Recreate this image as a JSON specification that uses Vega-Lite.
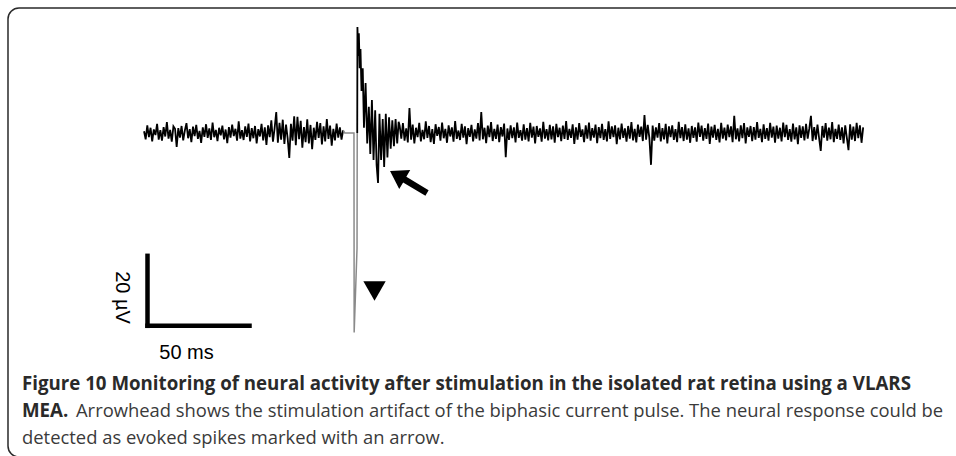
{
  "$schema": "https://vega.github.io/schema/vega-lite/v6.json",
  "width": 956,
  "height": 456,
  "autosize": {"type": "none"},
  "padding": 0,
  "background": "white",
  "config": {"view": {"stroke": null}},
  "datasets": {
    "frame": [{"t": -66.68, "v": 35.71, "t2": 420, "v2": -92.57}],
    "pre": [
      {"t":0,"v":0.5},{"t":0.8,"v":-1.8},{"t":1.6,"v":2.2},{"t":2.4,"v":-1.2},{"t":3.2,"v":1.5},{"t":4,"v":-2.4},{"t":4.8,"v":1.0},{"t":5.6,"v":-0.6},{"t":6.4,"v":2.6},{"t":7.2,"v":-1.9},
      {"t":8,"v":0.8},{"t":8.8,"v":-2.2},{"t":9.6,"v":1.7},{"t":10.4,"v":-1.0},{"t":11.2,"v":3.1},{"t":12,"v":-1.6},{"t":12.8,"v":0.9},{"t":13.6,"v":-2.5},{"t":14.4,"v":1.9},{"t":15.2,"v":1.2},
      {"t":16,"v":-4.0},{"t":16.8,"v":1.4},{"t":17.6,"v":-1.3},{"t":18.4,"v":2.0},{"t":19.2,"v":-2.1},{"t":20,"v":0.7},{"t":20.8,"v":2.8},{"t":21.6,"v":-1.5},{"t":22.4,"v":1.1},{"t":23.2,"v":-2.6},
      {"t":24,"v":1.8},{"t":24.8,"v":-0.9},{"t":25.6,"v":2.3},{"t":26.4,"v":-1.7},{"t":27.2,"v":0.6},{"t":28,"v":-2.8},{"t":28.8,"v":1.6},{"t":29.6,"v":-1.1},{"t":30.4,"v":2.5},{"t":31.2,"v":-1.4},
      {"t":32,"v":1.3},{"t":32.8,"v":-2.0},{"t":33.6,"v":3.0},{"t":34.4,"v":-1.2},{"t":35.2,"v":0.9},{"t":36,"v":-2.3},{"t":36.8,"v":1.5},{"t":37.6,"v":-0.7},{"t":38.4,"v":2.1},{"t":39.2,"v":-1.8},
      {"t":40,"v":1.0},{"t":40.8,"v":-2.9},{"t":41.6,"v":1.7},{"t":42.4,"v":-1.3},{"t":43.2,"v":2.4},{"t":44,"v":-0.9},{"t":44.8,"v":1.2},{"t":45.6,"v":-2.2},{"t":46.4,"v":3.3},{"t":47.2,"v":-1.6},
      {"t":48,"v":0.8},{"t":48.8,"v":-2.0},{"t":49.6,"v":1.9},{"t":50.4,"v":-1.1},{"t":51.2,"v":2.7},{"t":52,"v":-2.4},{"t":52.8,"v":1.4},{"t":53.6,"v":-1.5},{"t":54.4,"v":2.0},{"t":55.2,"v":-3.0},
      {"t":56,"v":1.1},{"t":56.8,"v":-1.0},{"t":57.6,"v":2.6},{"t":58.4,"v":-2.1},{"t":59.2,"v":1.6},{"t":60,"v":-3.4},{"t":60.8,"v":2.2},{"t":61.6,"v":-1.2},{"t":62.4,"v":3.6},{"t":63.2,"v":-2.5},
      {"t":64,"v":1.3},{"t":64.8,"v":6.0},{"t":65.6,"v":-2.8},{"t":66.4,"v":2.9},{"t":67.2,"v":-1.9},{"t":68,"v":3.8},{"t":68.8,"v":-3.1},{"t":69.6,"v":2.4},{"t":70.4,"v":-1.5},{"t":71.2,"v":-7.1},
      {"t":72,"v":2.6},{"t":72.8,"v":-2.2},{"t":73.6,"v":4.8},{"t":74.4,"v":-3.5},{"t":75.2,"v":4.6},{"t":76,"v":-1.8},{"t":76.8,"v":3.5},{"t":77.6,"v":-4.2},{"t":78.4,"v":1.7},{"t":79.2,"v":-2.6},
      {"t":80,"v":3.9},{"t":80.8,"v":-3.0},{"t":81.6,"v":2.3},{"t":82.4,"v":-4.6},{"t":83.2,"v":1.5},{"t":84,"v":-2.0},{"t":84.8,"v":3.2},{"t":85.6,"v":-1.4},{"t":86.4,"v":2.8},{"t":87.2,"v":-3.3},
      {"t":88,"v":1.9},{"t":88.8,"v":-2.4},{"t":89.6,"v":4.0},{"t":90.4,"v":-1.7},{"t":91.2,"v":2.1},{"t":92,"v":-3.6},{"t":92.8,"v":1.2},{"t":93.6,"v":-2.1},{"t":94.4,"v":2.7},{"t":95.2,"v":-1.3},
      {"t":96,"v":1.6},{"t":96.8,"v":-1.9},{"t":97.6,"v":0.8}
    ],
    "artifact": [
      {"t":97.6,"v":0.8},{"t":98.4,"v":0},{"t":102.9,"v":0},{"t":103.0,"v":-57.0},{"t":104.4,"v":-33.0},{"t":104.5,"v":0}
    ],
    "post": [
      {"t":104.5,"v":0},{"t":104.6,"v":30.3},{"t":105.0,"v":22.0},{"t":105.3,"v":28.5},{"t":105.7,"v":18.5},{"t":106.1,"v":24.0},{"t":106.6,"v":12.0},{"t":107.2,"v":18.5},{"t":107.8,"v":1.5},{"t":108.6,"v":14.3},
      {"t":109.4,"v":-3.0},{"t":110.2,"v":7.5},{"t":110.9,"v":-6.0},{"t":111.7,"v":9.4},{"t":112.5,"v":-7.7},{"t":113.3,"v":6.5},{"t":114.0,"v":-9.1},{"t":114.7,"v":-14.3},{"t":115.4,"v":5.5},{"t":116.2,"v":-7.7},
      {"t":117.0,"v":4.0},{"t":117.7,"v":-9.7},{"t":118.5,"v":5.5},{"t":119.3,"v":-7.0},{"t":120.1,"v":4.5},{"t":120.9,"v":-4.5},{"t":121.7,"v":3.6},{"t":122.5,"v":-3.8},{"t":123.3,"v":4.0},{"t":124.1,"v":-3.0},
      {"t":124.8,"v":3.2},
      {"t":125.3,"v":2.1},{"t":126.1,"v":-1.6},{"t":126.9,"v":2.8},{"t":127.7,"v":-2.2},{"t":128.5,"v":1.3},{"t":129.3,"v":-2.7},{"t":130.1,"v":7.1},{"t":130.9,"v":-1.9},{"t":131.7,"v":2.4},{"t":132.5,"v":-3.0},
      {"t":133.3,"v":1.5},{"t":134.1,"v":-1.2},{"t":134.9,"v":2.9},{"t":135.7,"v":-2.4},{"t":136.5,"v":0.9},{"t":137.3,"v":-1.8},{"t":138.1,"v":3.3},{"t":138.9,"v":-1.4},{"t":139.7,"v":2.0},{"t":140.5,"v":-2.6},
      {"t":141.3,"v":1.1},{"t":142.1,"v":-3.1},{"t":142.9,"v":2.5},{"t":143.7,"v":-0.8},{"t":144.5,"v":1.7},{"t":145.3,"v":-2.2},{"t":146.1,"v":3.0},{"t":146.9,"v":-1.5},{"t":147.7,"v":1.2},{"t":148.5,"v":-2.8},
      {"t":149.3,"v":2.2},{"t":150.1,"v":-1.0},{"t":150.9,"v":1.6},{"t":151.7,"v":-2.5},{"t":152.5,"v":3.4},{"t":153.3,"v":-1.7},{"t":154.1,"v":0.7},{"t":154.9,"v":-2.0},{"t":155.7,"v":2.6},{"t":156.5,"v":-1.3},
      {"t":157.3,"v":1.9},{"t":158.1,"v":-3.2},{"t":158.9,"v":1.4},{"t":159.7,"v":-1.1},{"t":160.5,"v":2.3},{"t":161.3,"v":-2.4},{"t":162.1,"v":1.0},{"t":162.9,"v":-1.6},{"t":163.7,"v":2.8},{"t":164.5,"v":-2.1},
      {"t":165.3,"v":6.0},{"t":166.1,"v":-1.8},{"t":166.9,"v":1.5},{"t":167.7,"v":-2.9},{"t":168.5,"v":2.1},{"t":169.3,"v":-1.2},{"t":170.1,"v":3.1},{"t":170.9,"v":-2.3},{"t":171.7,"v":1.2},{"t":172.5,"v":-1.7},
      {"t":173.3,"v":2.4},{"t":174.1,"v":-2.6},{"t":174.9,"v":1.7},{"t":175.7,"v":-1.0},{"t":176.5,"v":2.7},{"t":177.3,"v":-6.9},{"t":178.1,"v":1.3},{"t":178.9,"v":-2.0},{"t":179.7,"v":2.2},{"t":180.5,"v":-1.5},
      {"t":181.3,"v":1.6},{"t":182.1,"v":-2.7},{"t":182.9,"v":3.0},{"t":183.7,"v":-1.4},{"t":184.5,"v":0.8},{"t":185.3,"v":-2.2},{"t":186.1,"v":2.5},{"t":186.9,"v":-1.9},{"t":187.7,"v":1.4},{"t":188.5,"v":-2.4},
      {"t":189.3,"v":2.9},{"t":190.1,"v":-1.3},{"t":190.9,"v":1.8},{"t":191.7,"v":-3.0},{"t":192.5,"v":2.0},{"t":193.3,"v":-1.1},{"t":194.1,"v":1.3},{"t":194.9,"v":-2.5},{"t":195.7,"v":3.2},{"t":196.5,"v":-1.6},
      {"t":197.3,"v":1.1},{"t":198.1,"v":-2.1},{"t":198.9,"v":2.3},{"t":199.7,"v":-1.8},{"t":200.5,"v":1.9},{"t":201.3,"v":-2.8},{"t":202.1,"v":2.6},{"t":202.9,"v":-1.2},{"t":203.7,"v":1.5},{"t":204.5,"v":-2.3},
      {"t":205.3,"v":2.1},{"t":206.1,"v":-1.7},{"t":206.9,"v":3.4},{"t":207.7,"v":-2.0},{"t":208.5,"v":1.2},{"t":209.3,"v":-1.4},{"t":210.1,"v":2.5},{"t":210.9,"v":-3.1},{"t":211.7,"v":1.6},{"t":212.5,"v":-1.9},
      {"t":213.3,"v":2.8},{"t":214.1,"v":-1.1},{"t":214.9,"v":1.0},{"t":215.7,"v":-2.6},{"t":216.5,"v":2.2},{"t":217.3,"v":-1.6},{"t":218.1,"v":3.0},{"t":218.9,"v":-2.2},{"t":219.7,"v":1.4},{"t":220.5,"v":-1.3},
      {"t":221.3,"v":2.4},{"t":222.1,"v":-2.9},{"t":222.9,"v":1.7},{"t":223.7,"v":-1.5},{"t":224.5,"v":2.6},{"t":225.3,"v":-2.0},{"t":226.1,"v":1.1},{"t":226.9,"v":-2.4},{"t":227.7,"v":3.3},{"t":228.5,"v":-1.7},
      {"t":229.3,"v":1.9},{"t":230.1,"v":-1.2},{"t":230.9,"v":2.2},{"t":231.7,"v":-3.2},{"t":232.5,"v":1.5},{"t":233.3,"v":-1.8},{"t":234.1,"v":2.7},{"t":234.9,"v":-1.4},{"t":235.7,"v":1.3},{"t":236.5,"v":-2.5},
      {"t":237.3,"v":2.0},{"t":238.1,"v":-1.6},{"t":238.9,"v":3.1},{"t":239.7,"v":-2.1},{"t":240.5,"v":1.2},{"t":241.3,"v":-2.7},{"t":242.1,"v":2.4},{"t":242.9,"v":-1.1},{"t":243.7,"v":1.8},{"t":244.5,"v":-2.3},
      {"t":245.3,"v":5.1},{"t":246.1,"v":-1.9},{"t":246.9,"v":2.3},{"t":247.7,"v":-1.4},{"t":248.5,"v":-9.1},{"t":249.3,"v":2.1},{"t":250.1,"v":-2.2},{"t":250.9,"v":1.6},{"t":251.7,"v":-1.3},{"t":252.5,"v":2.8},
      {"t":253.3,"v":-2.4},{"t":254.1,"v":1.4},{"t":254.9,"v":-1.8},{"t":255.7,"v":2.6},{"t":256.5,"v":-3.0},{"t":257.3,"v":1.9},{"t":258.1,"v":-1.2},{"t":258.9,"v":2.2},{"t":259.7,"v":-2.0},{"t":260.5,"v":1.1},
      {"t":261.3,"v":-2.6},{"t":262.1,"v":3.2},{"t":262.9,"v":-1.5},{"t":263.7,"v":1.7},{"t":264.5,"v":-2.3},{"t":265.3,"v":2.5},{"t":266.1,"v":-1.9},{"t":266.9,"v":1.3},{"t":267.7,"v":-2.8},{"t":268.5,"v":2.0},
      {"t":269.3,"v":-1.4},{"t":270.1,"v":1.6},{"t":270.9,"v":-2.5},{"t":271.7,"v":3.0},{"t":272.5,"v":-1.1},{"t":273.3,"v":2.1},{"t":274.1,"v":-2.2},{"t":274.9,"v":1.4},{"t":275.7,"v":-1.7},{"t":276.5,"v":2.7},
      {"t":277.3,"v":-3.1},{"t":278.1,"v":1.8},{"t":278.9,"v":-1.3},{"t":279.7,"v":2.3},{"t":280.5,"v":-2.0},{"t":281.3,"v":1.2},{"t":282.1,"v":-2.7},{"t":282.9,"v":2.9},{"t":283.7,"v":-1.6},{"t":284.5,"v":1.5},
      {"t":285.3,"v":-2.1},{"t":286.1,"v":2.4},{"t":286.9,"v":-1.2},{"t":287.7,"v":1.9},{"t":288.5,"v":-2.6},{"t":289.3,"v":4.9},{"t":290.1,"v":-1.8},{"t":290.9,"v":1.3},{"t":291.7,"v":-2.4},{"t":292.5,"v":2.2},
      {"t":293.3,"v":-1.5},{"t":294.1,"v":2.8},{"t":294.9,"v":-3.0},{"t":295.7,"v":1.6},{"t":296.5,"v":-1.1},{"t":297.3,"v":2.0},{"t":298.1,"v":-2.3},{"t":298.9,"v":1.7},{"t":299.7,"v":-1.9},{"t":300.5,"v":3.1},
      {"t":301.3,"v":-1.4},{"t":302.1,"v":1.2},{"t":302.9,"v":-2.6},{"t":303.7,"v":2.5},{"t":304.5,"v":-1.7},{"t":305.3,"v":1.4},{"t":306.1,"v":-2.2},{"t":306.9,"v":2.9},{"t":307.7,"v":-1.3},{"t":308.5,"v":1.8},
      {"t":309.3,"v":-2.8},{"t":310.1,"v":2.1},{"t":310.9,"v":-1.6},{"t":311.7,"v":1.5},{"t":312.5,"v":-2.4},{"t":313.3,"v":3.0},{"t":314.1,"v":-1.2},{"t":314.9,"v":2.3},{"t":315.7,"v":-2.0},{"t":316.5,"v":1.1},
      {"t":317.3,"v":-2.5},{"t":318.1,"v":2.7},{"t":318.9,"v":-1.8},{"t":319.7,"v":1.6},{"t":320.5,"v":-3.2},{"t":321.3,"v":2.2},{"t":322.1,"v":-1.4},{"t":322.9,"v":1.9},{"t":323.7,"v":-2.1},{"t":324.5,"v":2.6},
      {"t":325.3,"v":-1.6},{"t":326.1,"v":1.3},{"t":326.9,"v":4.9},{"t":327.7,"v":-2.3},{"t":328.5,"v":1.7},{"t":329.3,"v":-1.9},{"t":330.1,"v":2.4},{"t":330.9,"v":-1.5},{"t":331.7,"v":-5.1},{"t":332.5,"v":2.0},
      {"t":333.3,"v":-1.3},{"t":334.1,"v":2.8},{"t":334.9,"v":-2.2},{"t":335.7,"v":1.5},{"t":336.5,"v":-1.8},{"t":337.3,"v":3.1},{"t":338.1,"v":-2.6},{"t":338.9,"v":1.2},{"t":339.7,"v":-1.7},{"t":340.5,"v":2.4},
      {"t":341.3,"v":-2.0},{"t":342.1,"v":1.6},{"t":342.9,"v":-3.0},{"t":343.7,"v":2.2},{"t":344.5,"v":-1.4},{"t":345.3,"v":-4.9},{"t":346.1,"v":2.5},{"t":346.9,"v":-1.9},{"t":347.7,"v":1.8},{"t":348.5,"v":-2.3},
      {"t":349.3,"v":2.9},{"t":350.1,"v":-1.5},{"t":350.9,"v":2.2},{"t":351.7,"v":-2.8},{"t":352.5,"v":1.6}
    ],
    "scalebar": [
      {"t": 1.7, "v": -35.1, "t2": 1.7, "v2": -55.1},
      {"t": 1.7, "v": -55.1, "t2": 51.7, "v2": -55.1}
    ],
    "stimulus": [{"t": 112.98, "v": -45.14}],
    "response": [{"t": 129.89, "v": -14.0}],
    "timeLabel": [{"t": 20.82, "v": -64.57, "label": "50 ms"}],
    "voltLabel": [{"t": -13.98, "v": -47.0, "label": "20 µV"}],
    "captionBold": [
      {"t": -59.82, "v": -73.43, "label": "Figure 10 Monitoring of neural activity after stimulation in the isolated rat retina using a VLARS"},
      {"t": -59.82, "v": -81.14, "label": "MEA."}
    ],
    "captionText": [
      {"t": -33.35, "v": -81.14, "label": "Arrowhead shows the stimulation artifact of the biphasic current pulse. The neural response could be"},
      {"t": -59.82, "v": -88.86, "label": "detected as evoked spikes marked with an arrow."}
    ]
  },
  "layer": [
    {
      "data": {"name": "frame"},
      "mark": {"type": "rect", "filled": false, "stroke": "#2a2a2a", "strokeWidth": 1.5, "cornerRadius": 11, "clip": true},
      "encoding": {
        "x": {"field": "t", "type": "quantitative", "scale": {"domain": [-70.6, 398.0], "nice": false, "zero": false}, "axis": null},
        "x2": {"field": "t2"},
        "y": {"field": "v", "type": "quantitative", "scale": {"domain": [-92.3, 38.0], "nice": false, "zero": false}, "axis": null},
        "y2": {"field": "v2"}
      }
    },
    {
      "data": {"name": "pre"},
      "mark": {"type": "line", "color": "#000000", "strokeWidth": 1.8},
      "encoding": {
        "x": {"field": "t", "type": "quantitative"},
        "y": {"field": "v", "type": "quantitative"}
      }
    },
    {
      "data": {"name": "artifact"},
      "mark": {"type": "line", "color": "#8a8a8a", "strokeWidth": 1.5},
      "encoding": {
        "x": {"field": "t", "type": "quantitative"},
        "y": {"field": "v", "type": "quantitative"}
      }
    },
    {
      "data": {"name": "post"},
      "mark": {"type": "line", "color": "#000000", "strokeWidth": 1.8},
      "encoding": {
        "x": {"field": "t", "type": "quantitative"},
        "y": {"field": "v", "type": "quantitative"}
      }
    },
    {
      "data": {"name": "scalebar"},
      "mark": {"type": "rule", "color": "#000000", "strokeWidth": 4.5, "strokeCap": "square"},
      "encoding": {
        "x": {"field": "t", "type": "quantitative"},
        "x2": {"field": "t2"},
        "y": {"field": "v", "type": "quantitative"},
        "y2": {"field": "v2"}
      }
    },
    {
      "data": {"name": "stimulus"},
      "mark": {"type": "point", "shape": "triangle-down", "size": 500, "filled": true, "color": "#000000", "opacity": 1},
      "encoding": {
        "x": {"field": "t", "type": "quantitative"},
        "y": {"field": "v", "type": "quantitative"}
      }
    },
    {
      "data": {"name": "response"},
      "mark": {"type": "point", "shape": "M-0.95,-0.55L0.06,-0.595L-0.135,-0.26L0.98,0.41L0.82,0.69L-0.295,0.02L-0.49,0.355Z", "size": 1600, "filled": true, "color": "#000000", "opacity": 1, "strokeWidth": 0},
      "encoding": {
        "x": {"field": "t", "type": "quantitative"},
        "y": {"field": "v", "type": "quantitative"}
      }
    },
    {
      "data": {"name": "timeLabel"},
      "mark": {"type": "text", "font": "Liberation Sans", "fontSize": 20, "color": "#000000", "align": "center", "baseline": "alphabetic"},
      "encoding": {
        "x": {"field": "t", "type": "quantitative"},
        "y": {"field": "v", "type": "quantitative"},
        "text": {"field": "label"}
      }
    },
    {
      "data": {"name": "voltLabel"},
      "mark": {"type": "text", "font": "Liberation Sans", "fontSize": 20, "color": "#000000", "align": "center", "baseline": "alphabetic", "angle": 90},
      "encoding": {
        "x": {"field": "t", "type": "quantitative"},
        "y": {"field": "v", "type": "quantitative"},
        "text": {"field": "label"}
      }
    },
    {
      "data": {"name": "captionBold"},
      "mark": {"type": "text", "font": "Open Sans", "fontSize": 18.7, "fontWeight": "bold", "color": "#2a2a2a", "align": "left", "baseline": "alphabetic"},
      "encoding": {
        "x": {"field": "t", "type": "quantitative"},
        "y": {"field": "v", "type": "quantitative"},
        "text": {"field": "label"}
      }
    },
    {
      "data": {"name": "captionText"},
      "mark": {"type": "text", "font": "Open Sans", "fontSize": 18.4, "color": "#3a3a3a", "align": "left", "baseline": "alphabetic"},
      "encoding": {
        "x": {"field": "t", "type": "quantitative"},
        "y": {"field": "v", "type": "quantitative"},
        "text": {"field": "label"}
      }
    }
  ]
}
